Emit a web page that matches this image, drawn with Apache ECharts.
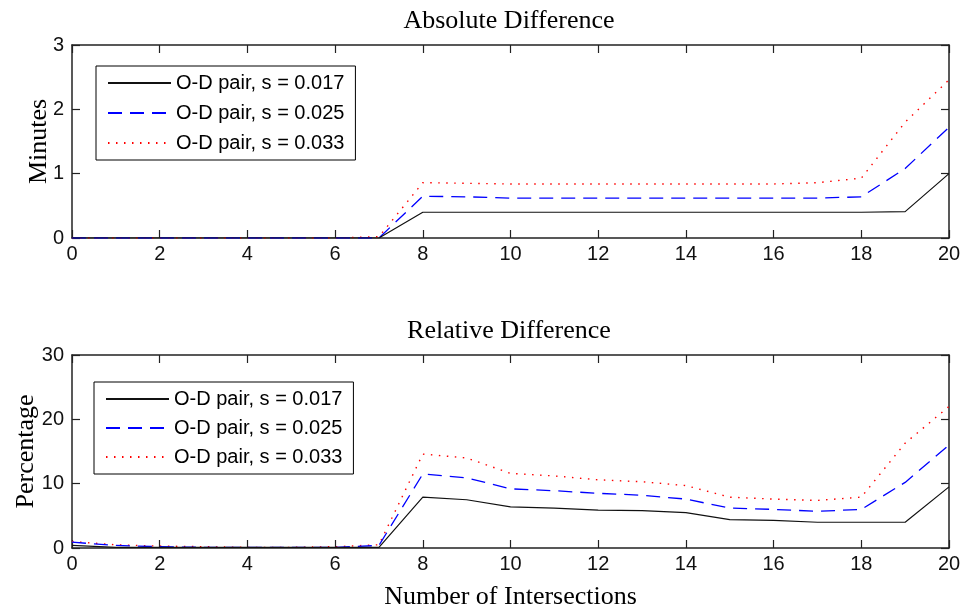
<!DOCTYPE html>
<html>
<head>
<meta charset="utf-8">
<script src="https://cdn.jsdelivr.net/npm/echarts@6/dist/echarts.min.js"></script>
<style>
  html, body { margin: 0; padding: 0; background: #fff; }
  #chart { width: 961px; height: 607px; }
</style>
</head>
<body>
<div id="chart"></div>
<script>
// Number of intersections on the route
const intersections = [0, 1, 2, 3, 4, 5, 6, 7, 8, 9, 10, 11, 12, 13, 14, 15, 16, 17, 18, 19, 20];

// Absolute difference (minutes)
const absS017 = [0, 0, 0, 0, 0, 0, 0, 0, 0.40, 0.40, 0.40, 0.40, 0.40, 0.40, 0.40, 0.40, 0.40, 0.40, 0.40, 0.41, 1.00];
const absS025 = [0, 0, 0, 0, 0, 0, 0, 0, 0.65, 0.64, 0.62, 0.62, 0.62, 0.62, 0.62, 0.62, 0.62, 0.62, 0.64, 1.08, 1.72];
const absS033 = [0, 0, 0, 0, 0, 0, 0, 0.02, 0.86, 0.85, 0.84, 0.84, 0.84, 0.84, 0.84, 0.84, 0.84, 0.86, 0.93, 1.80, 2.46];

// Relative difference (percentage)
const relS017 = [0.4, 0.1, 0.1, 0.1, 0.1, 0.1, 0.1, 0.1, 7.9, 7.5, 6.4, 6.2, 5.9, 5.8, 5.5, 4.4, 4.3, 4.0, 4.0, 4.0, 9.5];
const relS025 = [0.9, 0.4, 0.2, 0.1, 0.1, 0.1, 0.1, 0.4, 11.5, 10.9, 9.2, 8.9, 8.5, 8.2, 7.6, 6.2, 6.0, 5.7, 6.0, 10.2, 16.0];
const relS033 = [1.0, 0.5, 0.3, 0.2, 0.1, 0.1, 0.2, 0.5, 14.6, 14.0, 11.6, 11.2, 10.6, 10.3, 9.7, 7.9, 7.6, 7.4, 7.9, 16.3, 22.0];

const seriesNames = ['O-D pair, s = 0.017', 'O-D pair, s = 0.025', 'O-D pair, s = 0.033'];
const titles = ['Absolute Difference', 'Relative Difference'];
const yNames = ['Minutes', 'Percentage'];
const xName = 'Number of Intersections';

const SANS = 'Liberation Sans, Arial, sans-serif';
const SERIF = 'Liberation Serif, Times New Roman, serif';
const AXIS_COLOR = '#222';

const lineStyles = [
  { color: '#111111', width: 1.2, type: 'solid' },
  { color: '#0000ff', width: 1.3, type: [14, 8] },
  { color: '#ff0000', width: 1.4, type: [1.5, 6.5] }
];

function pairs(xs, ys) {
  return xs.map((x, i) => [x, ys[i]]);
}

function mainX(gridIndex, withName) {
  return {
    type: 'value', gridIndex, min: 0, max: 20, interval: 2,
    position: 'bottom',
    name: withName ? xName : '',
    nameLocation: 'middle', nameGap: 36, nameMoveOverlap: false,
    nameTextStyle: { fontFamily: SERIF, fontSize: 26, color: '#000' },
    axisLine: { show: true, onZero: false, lineStyle: { color: AXIS_COLOR, width: 1.5 } },
    axisTick: { show: true, inside: true, length: 8, lineStyle: { color: AXIS_COLOR, width: 1.2 } },
    axisLabel: { fontFamily: SANS, fontSize: 20, color: '#111', margin: 6 },
    splitLine: { show: false }
  };
}
function mirrorX(gridIndex) {
  return {
    type: 'value', gridIndex, min: 0, max: 20, interval: 2, position: 'top',
    axisLine: { show: true, onZero: false, lineStyle: { color: AXIS_COLOR, width: 1.5 } },
    axisTick: { show: true, inside: true, length: 8, lineStyle: { color: AXIS_COLOR, width: 1.2 } },
    axisLabel: { show: false }, splitLine: { show: false }
  };
}
function mainY(gridIndex, max, interval, name, gap) {
  return {
    type: 'value', gridIndex, min: 0, max, interval, position: 'left',
    name, nameLocation: 'middle', nameGap: gap, nameRotate: 90, nameMoveOverlap: false,
    nameTextStyle: { fontFamily: SERIF, fontSize: 26, color: '#000' },
    axisLine: { show: true, onZero: false, lineStyle: { color: AXIS_COLOR, width: 1.5 } },
    axisTick: { show: true, inside: true, length: 8, lineStyle: { color: AXIS_COLOR, width: 1.2 } },
    axisLabel: { fontFamily: SANS, fontSize: 20, color: '#111', margin: 8 },
    splitLine: { show: false }
  };
}
function mirrorY(gridIndex, max, interval) {
  return {
    type: 'value', gridIndex, min: 0, max, interval, position: 'right',
    axisLine: { show: true, onZero: false, lineStyle: { color: AXIS_COLOR, width: 1.5 } },
    axisTick: { show: true, inside: true, length: 8, lineStyle: { color: AXIS_COLOR, width: 1.2 } },
    axisLabel: { show: false }, splitLine: { show: false }
  };
}
function lineSeries(name, idx, axisIndex, values) {
  return {
    name, type: 'line', xAxisIndex: axisIndex, yAxisIndex: axisIndex,
    data: pairs(intersections, values),
    showSymbol: false, symbol: 'none', smooth: false,
    lineStyle: lineStyles[idx],
    itemStyle: { color: lineStyles[idx].color },
    z: 3 - idx
  };
}
function legendBox(left, top, gap) {
  return {
    orient: 'vertical', left, top,
    data: seriesNames,
    itemWidth: 63, itemHeight: 20, itemGap: gap,
    padding: [7, 11, 7, 11],
    backgroundColor: '#fff', borderColor: '#000', borderWidth: 1, borderRadius: 0,
    itemStyle: { opacity: 0 },
    textStyle: { fontFamily: SANS, fontSize: 20, color: '#000', padding: [0, 0, 0, 0] },
    selectedMode: false
  };
}

const chart = echarts.init(document.getElementById('chart'), null, { renderer: 'canvas' });
chart.setOption({
  animation: false,
  backgroundColor: '#fff',
  title: [
    { text: titles[0], left: 509, top: 8, textAlign: 'center', padding: 0,
      textStyle: { fontFamily: SERIF, fontSize: 26, fontWeight: 'normal', color: '#000' } },
    { text: titles[1], left: 509, top: 318, textAlign: 'center', padding: 0,
      textStyle: { fontFamily: SERIF, fontSize: 26, fontWeight: 'normal', color: '#000' } }
  ],
  grid: [
    { left: 72, top: 45, width: 877, height: 193, containLabel: false, outerBoundsMode: 'none' },
    { left: 72, top: 355, width: 877, height: 193, containLabel: false, outerBoundsMode: 'none' }
  ],
  xAxis: [mainX(0, false), mainX(1, true), mirrorX(0), mirrorX(1)],
  yAxis: [mainY(0, 3, 1, yNames[0], 20), mainY(1, 30, 10, yNames[1], 33), mirrorY(0, 3, 1), mirrorY(1, 30, 10)],
  legend: [legendBox(96, 66, 10), legendBox(94, 382, 9)],
  series: [
    lineSeries(seriesNames[0], 0, 0, absS017),
    lineSeries(seriesNames[1], 1, 0, absS025),
    lineSeries(seriesNames[2], 2, 0, absS033),
    lineSeries(seriesNames[0], 0, 1, relS017),
    lineSeries(seriesNames[1], 1, 1, relS025),
    lineSeries(seriesNames[2], 2, 1, relS033)
  ]
});
</script>
</body>
</html>
